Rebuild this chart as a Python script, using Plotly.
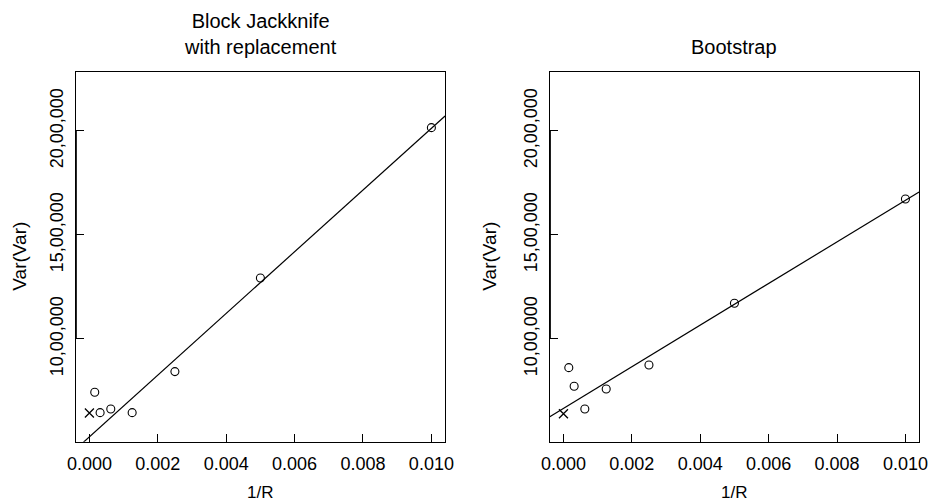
import plotly.graph_objects as go

# ---- data ----
inv_R = [0.000156, 0.0003125, 0.000625, 0.00125, 0.0025, 0.005, 0.010]
jack_var = [743600, 645700, 663500, 645700, 843000, 1293000, 2016000]
boot_var = [862000, 772600, 663500, 759600, 875000, 1171600, 1673000]
jack_x0 = [0.0]
jack_x0_var = [644000]
boot_x0 = [0.0]
boot_x0_var = [640000]
jack_fit = (529250, 148340000)   # intercept, slope
boot_fit = (666400, 100030000)
x_ticks = [0.0, 0.002, 0.004, 0.006, 0.008, 0.010]
x_tick_labels = ["0.000", "0.002", "0.004", "0.006", "0.008", "0.010"]
y_ticks = [1000000, 1500000, 2000000]
y_tick_labels = ["10,00,000", "15,00,000", "20,00,000"]
titles = ["Block Jackknife<br>with replacement", "Bootstrap"]

x_range = [-0.0004, 0.0104]
y_range = [506000, 2285000]

FONT = "Liberation Sans, Arial, sans-serif"
FS = 18

fig = go.Figure()

panels = [
    ("x", "y", jack_var, jack_x0, jack_x0_var, jack_fit),
    ("x2", "y2", boot_var, boot_x0, boot_x0_var, boot_fit),
]
for xa, ya, vals, x0, x0v, fit in panels:
    b0, b1 = fit
    lx = [x_range[0], x_range[1]]
    fig.add_trace(go.Scatter(
        x=lx, y=[b0 + b1 * v for v in lx], mode="lines", xaxis=xa, yaxis=ya,
        line=dict(color="black", width=1.2), showlegend=False, hoverinfo="skip"))
    fig.add_trace(go.Scatter(
        x=inv_R, y=vals, mode="markers", xaxis=xa, yaxis=ya,
        marker=dict(symbol="circle-open", size=8, color="black", line=dict(width=1.1)),
        showlegend=False, cliponaxis=False))
    fig.add_trace(go.Scatter(
        x=x0, y=x0v, mode="markers", xaxis=xa, yaxis=ya,
        marker=dict(symbol="x-thin-open", size=9, color="black", line=dict(width=1.3)),
        showlegend=False, cliponaxis=False))

ax_common = dict(
    showline=True, linecolor="black", linewidth=1.3, mirror=True,
    ticks="inside", ticklen=8, tickwidth=1.2, tickcolor="black",
    showgrid=False, zeroline=False, automargin=False,
    tickfont=dict(family=FONT, size=FS, color="black"),
)

dom_y = [0.1219, 0.8575]
fig.update_layout(
    template="none",
    width=935, height=503,
    margin=dict(l=0, r=0, t=0, b=0, pad=0),
    paper_bgcolor="white", plot_bgcolor="white",
    xaxis=dict(domain=[0.081, 0.476], range=x_range, tickvals=x_ticks,
               ticktext=x_tick_labels, anchor="y", ticklabelstandoff=6, **ax_common),
    yaxis=dict(domain=dom_y, range=y_range, tickvals=y_ticks, ticktext=y_tick_labels,
               tickangle=-90, anchor="x", ticklabelstandoff=4, **ax_common),
    xaxis2=dict(domain=[0.588, 0.983], range=x_range, tickvals=x_ticks,
                ticktext=x_tick_labels, anchor="y2", ticklabelstandoff=6, **ax_common),
    yaxis2=dict(domain=dom_y, range=y_range, tickvals=y_ticks, ticktext=y_tick_labels,
                tickangle=-90, anchor="x2", ticklabelstandoff=4, **ax_common),
)

# R-style axis line between first and last tick (slightly heavier)
for xr, yr in [("x", "y"), ("x2", "y2")]:
    fig.add_shape(type="line", xref=xr, yref=yr,
                  x0=x_range[0], x1=x_range[0], y0=y_ticks[0], y1=y_ticks[-1],
                  line=dict(color="black", width=2.2))

anns = []
centers = [(0.081 + 0.476) / 2, (0.588 + 0.983) / 2]
for cx, t in zip(centers, titles):
    anns.append(dict(x=cx, y=1 - 60 / 503, xref="paper", yref="paper", text=t,
                     showarrow=False, yanchor="bottom", xanchor="center",
                     font=dict(family=FONT, size=20, color="black")))
    anns.append(dict(x=cx, y=1 - 492 / 503, xref="paper", yref="paper", text="1/R",
                     showarrow=False, yanchor="middle", xanchor="center",
                     font=dict(family=FONT, size=17, color="black")))
for lx in [20 / 935, (470 + 20) / 935]:
    anns.append(dict(x=lx, y=(dom_y[0] + dom_y[1]) / 2, xref="paper", yref="paper",
                     text="Var(Var)", textangle=-90, showarrow=False,
                     xanchor="center", yanchor="middle",
                     font=dict(family=FONT, size=19, color="black")))
fig.update_layout(annotations=anns)

fig.write_html("out.html", config={"displayModeBar": False},
               post_script="document.body.style.margin='0';document.body.style.overflow='hidden';")
